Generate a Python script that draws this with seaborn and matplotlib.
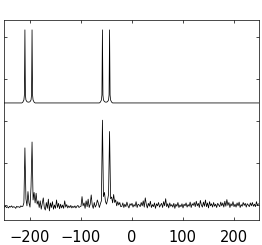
import numpy as np
import pandas as pd
import matplotlib
matplotlib.use("Agg")
import matplotlib.pyplot as plt
import seaborn as sns

# clean spectrum (upper trace), breakpoints
top_x = [-250, -215, -213, -211, -210, -209, -208, -207, -205, -203, -201, -199,
         -197, -196, -195, -194, -193, -191, -189,
         -63, -61, -59, -58, -57, -56, -55, -53, -51, -49, -47,
         -45, -44, -43, -42, -41, -39, -37, 250]
top_y = [2.43, 2.43, 2.45, 2.50, 2.62, 4.17, 2.62, 2.50, 2.46, 2.45, 2.45, 2.46,
         2.50, 2.62, 4.17, 2.62, 2.50, 2.45, 2.43,
         2.43, 2.45, 2.50, 2.62, 4.17, 2.62, 2.50, 2.46, 2.45, 2.45, 2.46,
         2.50, 2.62, 4.17, 2.62, 2.50, 2.45, 2.43, 2.43]

# noisy spectrum (lower trace), one value every 2 units from -249 to 249
noisy_y = [
    # -249 .. -215
    -0.05, -0.03, -0.06, -0.04, -0.07, -0.03, -0.05, -0.02, -0.06, -0.04,
    -0.05, -0.08, -0.03, -0.05, -0.04, -0.06, -0.02, -0.04,
    # -213 .. -181
    -0.03, 0.05, 1.36, 0.15, -0.02, 0.32, 0.05, -0.05, 0.44, 1.50,
    0.12, 0.30, 0.05, 0.28, 0.02, 0.10, -0.06,
    # -179 .. -101
    0.10, -0.10, 0.04, 0.17, -0.06, -0.12, 0.06, -0.08, 0.14, -0.14,
    0.05, -0.06, 0.08, -0.10, 0.00, -0.08, 0.12, -0.06, 0.04, -0.09,
    0.02, -0.07, 0.00, -0.08, 0.10, -0.05, 0.01, -0.07, -0.02, -0.06,
    -0.01, -0.07, -0.03, -0.06, -0.02, -0.07, -0.03, -0.01, -0.06, -0.04,
    # -99 .. -61
    -0.03, 0.20, -0.02, 0.05, -0.08, 0.10, -0.04, 0.14, -0.06, 0.02,
    0.24, 0.00, -0.08, 0.06, -0.05, 0.00, 0.12, 0.04, -0.06, 0.03,
    # -59 .. -21
    0.10, 2.02, 0.20, 0.30, 0.08, 0.02, 0.12, 0.25, 1.75, 0.15,
    0.19, 0.05, 0.25, 0.06, 0.12, -0.02, 0.08, 0.00, 0.06, -0.04,
    # -19 .. 249
    -0.03, 0.05, -0.06, 0.02, -0.04, 0.07, -0.02, -0.07, 0.03, -0.01,
    0.04, -0.05, 0.01, -0.03, 0.08, -0.06, 0.02, 0.00, -0.04, 0.06,
    -0.02, 0.10, -0.05, 0.17, 0.02, -0.07, 0.04, -0.03, 0.09, -0.06,
    0.01, -0.04, 0.05, -0.08, 0.03, -0.02, 0.06, -0.05, 0.00, 0.04,
    -0.06, 0.08, -0.02, 0.15, -0.04, 0.03, -0.07, 0.05, -0.03, 0.01,
    -0.05, 0.04, -0.08, 0.02, -0.03, 0.06, -0.06, 0.00, -0.04, 0.03,
    -0.07, 0.02, -0.02, 0.05, -0.05, 0.01, -0.03, 0.07, -0.06, 0.03,
    -0.01, 0.06, -0.04, 0.09, -0.02, 0.04, -0.06, 0.11, 0.00, -0.05,
    0.07, -0.03, 0.12, -0.04, 0.05, -0.07, 0.08, -0.02, 0.03, -0.05,
    0.06, -0.03, 0.02, -0.06, 0.04, 0.00, -0.04, 0.07, -0.02, 0.05,
    -0.05, 0.09, -0.03, 0.13, -0.01, 0.06, -0.06, 0.03, -0.02, 0.08,
    -0.04, 0.02, -0.05, 0.05, -0.02, 0.07, -0.06, 0.01, -0.03, 0.06,
    -0.01, 0.04, -0.05, 0.03, 0.00, -0.04, 0.05, -0.02, 0.06, -0.03,
    0.02, -0.04, 0.08, -0.01, 0.03,
]
noisy_x = np.arange(-249, 250, 2)

x_ticks = [-200, -100, 0, 100, 200]
y_ticks = [0, 1, 2, 3, 4]

df_top = pd.DataFrame({"x": top_x, "y": top_y})
df_noisy = pd.DataFrame({"x": noisy_x, "y": noisy_y})

sns.set_style("white")
plt.rcParams["font.family"] = ["DejaVu Sans"]

fig = plt.figure(figsize=(2.62, 2.45), dpi=100)
ax = fig.add_axes([4 / 262, 1 - 220 / 245, 255 / 262, 200 / 245])

sns.lineplot(data=df_top, x="x", y="y", ax=ax, color="black", lw=0.55,
             estimator=None, sort=False)
sns.lineplot(data=df_noisy, x="x", y="y", ax=ax, color="black", lw=0.55,
             estimator=None, sort=False)

ax.set_xlim(-250, 250)
ax.set_ylim(-0.357, 4.405)
ax.set_xticks(x_ticks)
ax.set_yticks(y_ticks)
ax.set_yticklabels([])
ax.set_xlabel("")
ax.set_ylabel("")
ax.tick_params(direction="in", length=2.5, width=0.5, color="black",
               labelcolor="black", top=True, right=True, left=True,
               bottom=True, labelsize=10.5, pad=7.5)
for s in ax.spines.values():
    s.set_linewidth(0.5)
    s.set_color("black")

fig.savefig("out.png", dpi=100)
